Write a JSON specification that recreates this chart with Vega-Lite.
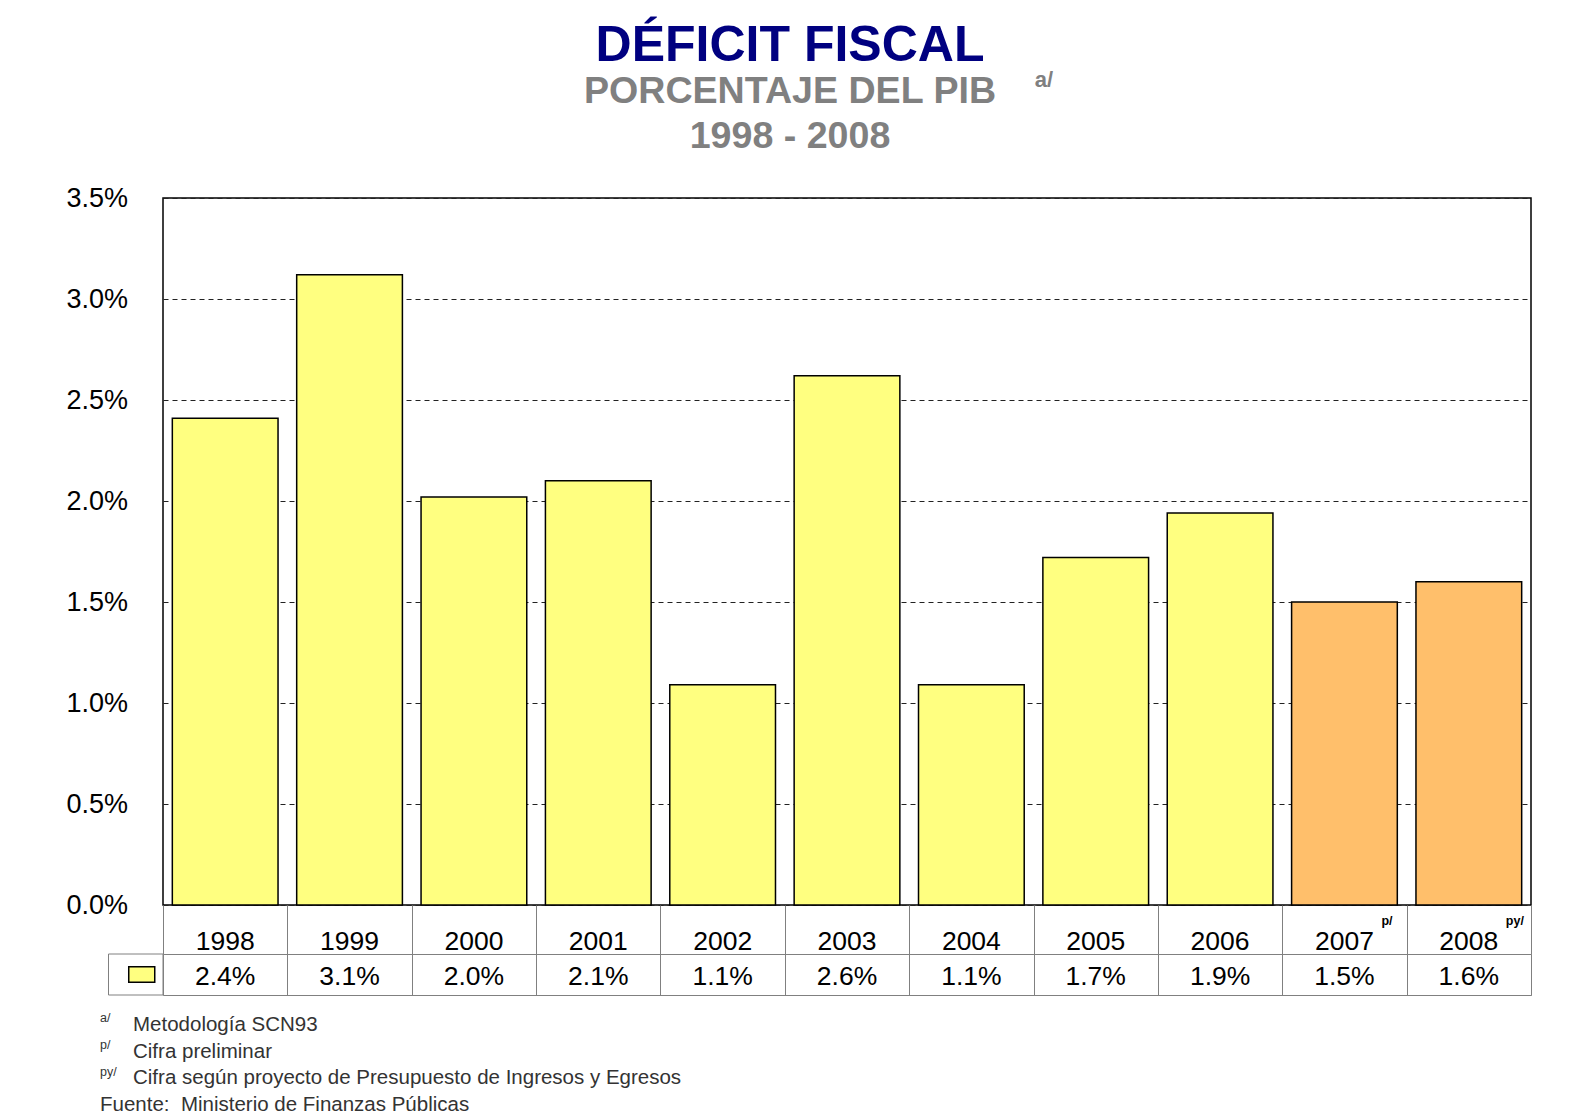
{
  "$schema": "https://vega.github.io/schema/vega-lite/v6.json",
  "autosize": {"type": "pad"},
  "padding": {"left": 65, "top": 20, "right": 60, "bottom": 5},
  "background": "white",
  "config": {"font": "Liberation Sans"},
  "datasets": {
    "deficit": [
      {"anio": "1998", "deficit": 0.0241, "tipo": "Cifra ejecutada", "marca": ""},
      {"anio": "1999", "deficit": 0.0312, "tipo": "Cifra ejecutada", "marca": ""},
      {"anio": "2000", "deficit": 0.0202, "tipo": "Cifra ejecutada", "marca": ""},
      {"anio": "2001", "deficit": 0.0210, "tipo": "Cifra ejecutada", "marca": ""},
      {"anio": "2002", "deficit": 0.0109, "tipo": "Cifra ejecutada", "marca": ""},
      {"anio": "2003", "deficit": 0.0262, "tipo": "Cifra ejecutada", "marca": ""},
      {"anio": "2004", "deficit": 0.0109, "tipo": "Cifra ejecutada", "marca": ""},
      {"anio": "2005", "deficit": 0.0172, "tipo": "Cifra ejecutada", "marca": ""},
      {"anio": "2006", "deficit": 0.0194, "tipo": "Cifra ejecutada", "marca": ""},
      {"anio": "2007", "deficit": 0.0150, "tipo": "Cifra preliminar", "marca": "p/"},
      {"anio": "2008", "deficit": 0.0160, "tipo": "Cifra proyectada", "marca": "py/"}
    ],
    "notas": [
      {"orden": 1, "marca": "a/", "nota": "Metodología SCN93"},
      {"orden": 2, "marca": "p/", "nota": "Cifra preliminar"},
      {"orden": 3, "marca": "py/", "nota": "Cifra según proyecto de Presupuesto de Ingresos y Egresos"},
      {"orden": 4, "marca": "", "nota": "Fuente:\u00a0 Ministerio de Finanzas Públicas"}
    ]
  },
  "spacing": 0,
  "bounds": "flush",
  "vconcat": [
    {
      "width": 1368,
      "height": 707,
      "view": {"stroke": "black", "strokeWidth": 1.5},
      "title": {
        "text": "DÉFICIT FISCAL",
        "subtitle": ["PORCENTAJE DEL PIB", "1998 - 2008"],
        "anchor": "middle",
        "dx": -57,
        "offset": 28.5,
        "font": "Liberation Sans",
        "fontSize": 50,
        "fontWeight": "bold",
        "color": "#000080",
        "subtitleFont": "Liberation Sans",
        "subtitleFontSize": 37.6,
        "subtitleFontWeight": "bold",
        "subtitleColor": "#808080",
        "subtitlePadding": 2,
        "subtitleLineHeight": 45
      },
      "data": {"name": "deficit"},
      "mark": {"type": "bar", "stroke": "black", "strokeWidth": 1.5},
      "encoding": {
        "x": {"field": "anio", "type": "ordinal", "scale": {"paddingInner": 0.15, "paddingOuter": 0.075}, "axis": null},
        "y": {
          "field": "deficit",
          "type": "quantitative",
          "scale": {"domain": [0, 0.035], "nice": false},
          "axis": {
            "values": [0, 0.005, 0.01, 0.015, 0.02, 0.025, 0.03, 0.035],
            "format": ".1%",
            "labelFontSize": 27,
            "labelColor": "black",
            "labelPadding": 35.5,
            "ticks": false,
            "domain": false,
            "grid": true,
            "gridDash": [5, 4],
            "gridColor": "#222222",
            "gridWidth": 1,
            "title": null
          }
        },
        "color": {
          "field": "tipo",
          "type": "nominal",
          "scale": {"domain": ["Cifra ejecutada", "Cifra preliminar", "Cifra proyectada"], "range": ["#FFFF80", "#FFBF6B", "#FFBF6B"]},
          "legend": null
        }
      }
    },
    {
      "width": 1368,
      "height": 49,
      "view": {"stroke": null},
      "title": {"text": "a/", "orient": "top", "anchor": "middle", "dx": 197, "offset": 813, "fontSize": 22, "fontWeight": "bold", "color": "#808080"},
      "data": {"name": "deficit"},
      "encoding": {
        "x": {
          "field": "anio",
          "type": "ordinal",
          "scale": {"paddingInner": 0, "paddingOuter": 0},
          "axis": {"grid": true, "tickBand": "extent", "labels": false, "ticks": false, "domain": false, "title": null, "gridColor": "#808080", "gridWidth": 1}
        }
      },
      "layer": [
        {"mark": {"type": "text", "fontSize": 26.5, "dy": 12, "color": "black"}, "encoding": {"text": {"field": "anio", "type": "nominal"}}},
        {"mark": {"type": "text", "fontSize": 12.5, "fontWeight": "bold", "align": "left", "dx": 37, "dy": -9, "color": "black"}, "encoding": {"text": {"field": "marca", "type": "nominal"}}}
      ]
    },
    {
      "width": 1368,
      "height": 41,
      "view": {"stroke": "#808080", "strokeWidth": 1},
      "resolve": {"scale": {"x": "independent"}, "axis": {"x": "independent"}},
      "layer": [
        {
          "data": {"name": "deficit"},
          "mark": {"type": "text", "fontSize": 26.5, "dy": 2.5, "color": "black"},
          "encoding": {
            "x": {
              "field": "anio",
              "type": "ordinal",
              "scale": {"paddingInner": 0, "paddingOuter": 0},
              "axis": {"grid": true, "tickBand": "extent", "labels": false, "ticks": false, "domain": false, "title": null, "gridColor": "#808080", "gridWidth": 1}
            },
            "text": {"field": "deficit", "type": "quantitative", "format": ".1%"}
          }
        },
        {
          "data": {"values": [{"serie": "Déficit fiscal"}]},
          "layer": [
            {
              "mark": {"type": "rect", "fill": "white", "stroke": "#808080", "strokeWidth": 1},
              "encoding": {"x": {"field": "serie", "type": "nominal", "scale": {"range": [-54.5, 0], "paddingInner": 0, "paddingOuter": 0}, "axis": null}}
            },
            {
              "mark": {"type": "point", "shape": "M-1,-0.6H1V0.6H-1Z", "size": 676, "filled": true, "fill": "#FFFF80", "stroke": "black", "strokeWidth": 1.5, "opacity": 1},
              "encoding": {"x": {"field": "serie", "type": "nominal", "bandPosition": 0.61, "axis": null}}
            }
          ]
        }
      ]
    },
    {
      "width": 2,
      "height": 107,
      "view": {"stroke": null},
      "data": {"name": "notas"},
      "encoding": {"y": {"field": "orden", "type": "ordinal", "axis": null, "scale": {"paddingInner": 0, "paddingOuter": 0}}},
      "layer": [
        {
          "transform": [{"filter": "datum.orden < 4"}],
          "mark": {"type": "text", "align": "left", "baseline": "alphabetic", "fontSize": 12.5, "dx": -64, "dy": 14, "color": "#333333"},
          "encoding": {"text": {"field": "marca", "type": "nominal"}}
        },
        {
          "transform": [{"filter": "datum.orden < 4"}],
          "mark": {"type": "text", "align": "left", "baseline": "alphabetic", "fontSize": 20.5, "dx": -31, "dy": 22.5, "color": "#333333"},
          "encoding": {"text": {"field": "nota", "type": "nominal"}}
        },
        {
          "transform": [{"filter": "datum.orden == 4"}],
          "mark": {"type": "text", "align": "left", "baseline": "alphabetic", "fontSize": 20.5, "dx": -64, "dy": 22.5, "color": "#333333"},
          "encoding": {"text": {"field": "nota", "type": "nominal"}}
        }
      ]
    }
  ]
}
